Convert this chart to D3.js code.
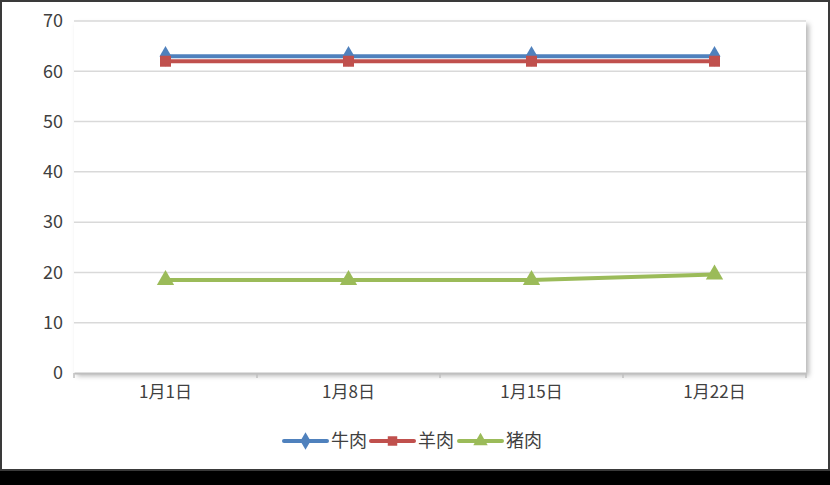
<!DOCTYPE html>
<html>
<head>
<meta charset="utf-8">
<script src="https://cdn.jsdelivr.net/npm/d3@7"></script>
<style>
  body { margin: 0; background: #000; }
  svg { display: block; }
  text { font-family: "Noto Sans CJK SC", "Noto Sans", sans-serif; fill: #404040; }
</style>
</head>
<body>
<div id="chart"></div>
<script>
const categories = ["1月1日", "1月8日", "1月15日", "1月22日"];
const beef = [63, 63, 63, 63];
const mutton = [62, 62, 62, 62];
const pork = [18.5, 18.5, 18.5, 19.6];
const yTicks = [0, 10, 20, 30, 40, 50, 60, 70];

const series = [
  { name: "牛肉", values: beef, color: "#4f81bd", marker: d3.symbolDiamond },
  { name: "羊肉", values: mutton, color: "#c0504d", marker: d3.symbolSquare },
  { name: "猪肉", values: pork, color: "#9bbb59", marker: d3.symbolTriangle }
];

const W = 830, H = 485;
let margin = { top: 21, right: 24, bottom: 112, left: 74 };
let width = W - margin.left - margin.right,
    height = H - margin.top - margin.bottom;

let svg = d3.select("#chart").append("svg")
    .attr("width", W).attr("height", H);

// frame
svg.append("rect").attr("x", 0).attr("y", 0).attr("width", W).attr("height", H).attr("fill", "#000");
svg.append("rect").attr("x", 1).attr("y", 1).attr("width", W - 2).attr("height", 469)
    .attr("fill", "#fff").attr("stroke", "#3a3a3a").attr("stroke-width", 2);

let defs = svg.append("defs");
defs.append("filter").attr("id", "shadow")
    .attr("x", "-5%").attr("y", "-5%").attr("width", "110%").attr("height", "110%")
  .append("feDropShadow")
    .attr("dx", 3).attr("dy", 3).attr("stdDeviation", 2.5)
    .attr("flood-color", "#000").attr("flood-opacity", 0.28);

let x = d3.scaleBand().domain(categories).range([0, width]).padding(0);
let y = d3.scaleLinear().domain([0, 70]).range([height, 0]);

let g = svg.append("g").attr("transform", "translate(" + margin.left + "," + margin.top + ")");

// plot area with shadow
g.append("rect").attr("width", width).attr("height", height)
    .attr("fill", "#fff").attr("filter", "url(#shadow)");

// gridlines
g.append("g").selectAll("line").data(yTicks.filter(d => d > 0)).join("line")
    .attr("x1", 0).attr("x2", width)
    .attr("y1", d => y(d)).attr("y2", d => y(d))
    .attr("stroke", "#d9d9d9").attr("stroke-width", 1.5);

// y axis labels
let yAxis = g.append("g").call(d3.axisLeft(y).tickValues(yTicks).tickSize(0).tickPadding(11));
yAxis.select(".domain").remove();
yAxis.selectAll("text").attr("font-size", 18).style("fill", "#404040");

// x axis
let xAxis = g.append("g").attr("transform", "translate(0," + height + ")")
    .call(d3.axisBottom(x).tickSize(0).tickPadding(13));
xAxis.select(".domain").attr("stroke", "#bfbfbf").attr("stroke-width", 2);
xAxis.selectAll("text").attr("font-size", 17).style("fill", "#404040");

let bounds = categories.map(c => x(c)).concat([width]);
g.append("g").selectAll("line").data(bounds).join("line")
    .attr("x1", d => d).attr("x2", d => d)
    .attr("y1", height).attr("y2", height + 5)
    .attr("stroke", "#bfbfbf").attr("stroke-width", 1.5);

let cx = c => x(c) + x.bandwidth() / 2;

let line = d3.line()
    .x((d, i) => cx(categories[i]))
    .y(d => y(d));

series.forEach(function(s) {
  g.append("path").datum(s.values)
    .attr("d", line)
    .attr("fill", "none")
    .attr("stroke", s.color)
    .attr("stroke-width", 4)
    .attr("stroke-linejoin", "round");
  g.append("g").selectAll("path").data(s.values).join("path")
    .attr("transform", (d, i) => "translate(" + cx(categories[i]) + "," + y(d) + ")")
    .attr("d", d3.symbol().type(s.marker).size(s.marker === d3.symbolTriangle ? 130 : 121))
    .attr("fill", s.color);
});

// legend
let legendX = [284, 371, 459];
let legend = svg.append("g").attr("transform", "translate(0,441)");
series.forEach(function(s, i) {
  let lg = legend.append("g").attr("transform", "translate(" + legendX[i] + ",0)");
  lg.append("line").attr("x1", 0).attr("x2", 43).attr("y1", 0).attr("y2", 0)
    .attr("stroke", s.color).attr("stroke-width", 4).attr("stroke-linecap", "round");
  lg.append("path").attr("transform", "translate(21.5,0)")
    .attr("d", d3.symbol().type(s.marker).size(90))
    .attr("fill", s.color);
  lg.append("text").attr("x", 47).attr("y", 0).attr("dy", "0.35em")
    .attr("font-size", 18).text(s.name);
});
</script>
</body>
</html>
